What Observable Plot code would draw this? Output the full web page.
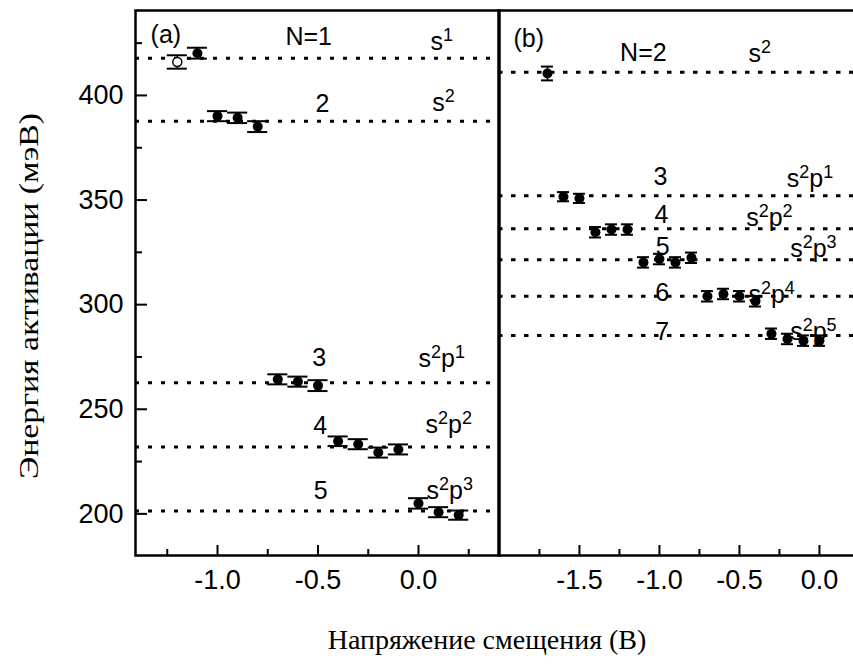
<!DOCTYPE html>
<html><head><meta charset="utf-8">
<script src="https://cdn.jsdelivr.net/npm/d3@7"></script>
<script src="https://cdn.jsdelivr.net/npm/@observablehq/plot@0.6"></script>
<style>
body{margin:0;background:#fff;}
#wrap{position:relative;width:853px;height:664px;overflow:hidden;background:#fff;}
#left,#right{position:absolute;top:0;}
#left{left:0;width:500px;}
#right{left:497px;width:371px;}
#left svg,#right svg{max-width:none !important;display:block;}
#xtitle{position:absolute;left:0;width:974px;top:624px;text-align:center;font-family:"Liberation Serif",serif;font-size:28px;line-height:32px;color:#000;}
</style></head>
<body>
<div id="wrap"><div id="left"></div><div id="right"></div><div id="xtitle">Напряжение смещения (В)</div></div>
<script>
// ---- ticks ----
const yMajor = [200, 250, 300, 350, 400];
const yMinor = [225, 275, 325, 375, 425];
const xMajorA = [-1.0, -0.5, 0.0];
const xMinorA = [-1.25, -0.75, -0.25, 0.25];
const xMajorB = [-1.5, -1.0, -0.5, 0.0];
const xMinorB = [-1.75, -1.25, -0.75, -0.25];

// ---- level lines ----
const levelsA = [417.8, 387.7, 262.7, 232.0, 201.4];
const levelsB = [411.1, 352.0, 336.3, 321.5, 304.0, 285.3];

// ---- panel (a) data ----
const biasA = [-1.1, -1.0, -0.9, -0.8, -0.7, -0.6, -0.5, -0.4, -0.3, -0.2, -0.1, 0.0, 0.1, 0.2];
const energyA = [420.2, 390.1, 389.3, 385.1, 264.3, 263.2, 261.3, 234.7, 233.3, 229.3, 230.8, 205.0, 200.8, 199.4];
const errA = [2.6, 2.4, 2.5, 2.6, 2.4, 2.4, 2.6, 2.3, 2.4, 2.4, 2.4, 2.5, 2.4, 2.2];
const openBiasA = [-1.2];
const openEnergyA = [416.0];
const openErrA = [3.2];

// ---- panel (b) data ----
const biasB = [-1.7, -1.6, -1.5, -1.4, -1.3, -1.2, -1.1, -1.0, -0.9, -0.8, -0.7, -0.6, -0.5, -0.4, -0.3, -0.2, -0.1, 0.0];
const energyB = [410.5, 351.6, 350.8, 334.6, 335.9, 335.9, 320.2, 321.8, 320.2, 322.4, 304.0, 305.1, 304.0, 301.6, 286.1, 283.6, 282.8, 282.8];
const errB = [3.3, 2.2, 2.2, 2.5, 2.5, 2.5, 2.5, 2.5, 2.5, 2.5, 2.5, 2.5, 2.5, 2.5, 2.5, 2.5, 2.5, 2.5];

// ---- annotations ----
const labelTextA = ["(a)", "N=1", "s^1", "2", "s^2", "3", "s^2p^1", "4", "s^2p^2", "5", "s^2p^3"];
const labelXA = [-1.333, -0.662, 0.06, -0.512, 0.068, -0.529, 0.0, -0.524, 0.035, -0.521, 0.04];
const labelYA = [425.3, 423.9, 421.5, 392.0, 392.8, 270.7, 270.0, 238.0, 238.8, 207.2, 207.2];
const labelTextB = ["(b)", "N=2", "s^2", "3", "s^2p^1", "4", "s^2p^2", "5", "s^2p^3", "6", "s^2p^4", "7", "s^2p^5"];
const labelXB = [-1.9125, -1.246, -0.444, -1.0375, -0.204, -1.031, -0.458, -1.0225, -0.183, -1.027, -0.444, -1.027, -0.183];
const labelYB = [423.1, 416.4, 416.0, 357.0, 356.2, 339.0, 337.8, 323.9, 322.8, 301.6, 300.8, 283.2, 283.2];

const yTitle = "Энергия активации (мэВ)";

const SANS = "Liberation Sans, Arial, sans-serif";
const SERIF = "Liberation Serif, Times New Roman, serif";
const H = 664, MT = 10, MB = 109;
const frameH = H - MT - MB;
const yDomain = [180.1, 440.6];

const zip = (xs, ys, es) => xs.map((x, i) => ({x, y: ys[i], e: es ? es[i] : 0}));
const lab = (ts, xs, ys) => ts.map((t, i) => ({t, x: xs[i], y: ys[i]}));

function errMarks(data, capHalf) {
  return [
    Plot.ruleX(data, {x: "x", y1: d => d.y - d.e, y2: d => d.y + d.e, stroke: "black", strokeWidth: 1.5}),
    Plot.ruleY(data, {y: d => d.y - d.e, x1: d => d.x - capHalf, x2: d => d.x + capHalf, stroke: "black", strokeWidth: 2}),
    Plot.ruleY(data, {y: d => d.y + d.e, x1: d => d.x - capHalf, x2: d => d.x + capHalf, stroke: "black", strokeWidth: 2})
  ];
}

function superscript(svg) {
  svg.querySelectorAll("text").forEach(t => {
    const s = t.textContent;
    if (!s.includes("^")) return;
    t.textContent = "";
    const parts = s.split(/(\^\d)/).filter(p => p);
    let raised = false;
    for (const p of parts) {
      const ts = document.createElementNS("http://www.w3.org/2000/svg", "tspan");
      if (p.startsWith("^")) {
        ts.textContent = p.slice(1);
        ts.setAttribute("font-size", "18");
        ts.setAttribute("dy", "-9");
        raised = true;
      } else {
        ts.textContent = p;
        if (raised) { ts.setAttribute("dy", "9"); raised = false; }
      }
      t.appendChild(ts);
    }
  });
}

// ---- left panel ----
const WL = 500, MLL = 135, MRL = 1;
const frameWL = WL - MLL - MRL;
const left = Plot.plot({
  width: WL, height: H, marginLeft: MLL, marginRight: MRL, marginTop: MT, marginBottom: MB,
  style: {background: "transparent", overflow: "visible"},
  x: {domain: [-1.408, 0.403]},
  y: {domain: yDomain},
  marks: [
    Plot.ruleY(levelsA, {y: d => d, stroke: "black", strokeWidth: 3, strokeDasharray: "4,9"}),
    ...errMarks(zip(biasA, energyA, errA), 0.05),
    ...errMarks(zip(openBiasA, openEnergyA, openErrA), 0.05),
    Plot.dot(zip(biasA, energyA), {x: "x", y: "y", r: 5, fill: "black", stroke: "none"}),
    Plot.dot(zip(openBiasA, openEnergyA), {x: "x", y: "y", r: 4.5, fill: "white", stroke: "black", strokeWidth: 1.5}),
    Plot.text(lab(labelTextA, labelXA, labelYA), {x: "x", y: "y", text: "t", textAnchor: "start", lineAnchor: "bottom", fontSize: 25, fontFamily: SANS, fill: "black"}),
    Plot.tickX(xMajorA, {x: d => d, insetTop: frameH - 10, stroke: "black", strokeWidth: 2}),
    Plot.tickX(xMinorA, {x: d => d, insetTop: frameH - 6, stroke: "black", strokeWidth: 2}),
    Plot.tickY(yMajor, {y: d => d, insetRight: frameWL - 12, stroke: "black", strokeWidth: 2}),
    Plot.tickY(yMinor, {y: d => d, insetRight: frameWL - 7, stroke: "black", strokeWidth: 2}),
    Plot.axisX(xMajorA, {anchor: "bottom", tickSize: 0, tickPadding: 14, tickFormat: d => d.toFixed(1), fontSize: 27, fontFamily: SANS, fill: "black", label: null}),
    Plot.axisY(yMajor, {anchor: "left", tickSize: 0, tickPadding: 12, tickFormat: d => String(d), fontSize: 27, fontFamily: SANS, fill: "black", label: null}),
    Plot.text([yTitle], {text: d => d, frameAnchor: "left", textAnchor: "middle", lineAnchor: "middle", rotate: -90, dx: -106, dy: 13, fontSize: 28, fontFamily: SERIF, fill: "black", className: "ytitle"}),
    Plot.frame({stroke: "black", strokeWidth: 2.5})
  ]
});
superscript(left);
left.querySelectorAll(".ytitle text").forEach(t => {
  t.setAttribute("textLength", "366");
  t.setAttribute("lengthAdjust", "spacingAndGlyphs");
});
document.getElementById("left").appendChild(left);

// ---- right panel ----
const WR = 371, MLR = 1, MRR = 10;
const right = Plot.plot({
  width: WR, height: H, marginLeft: MLR, marginRight: MRR, marginTop: MT, marginBottom: MB,
  style: {background: "transparent"},
  x: {domain: [-2.006, 0.244]},
  y: {domain: yDomain, axis: null},
  marks: [
    Plot.ruleY(levelsB, {y: d => d, stroke: "black", strokeWidth: 3, strokeDasharray: "4.5,8.5"}),
    ...errMarks(zip(biasB, energyB, errB), 0.0375),
    Plot.dot(zip(biasB, energyB), {x: "x", y: "y", r: 5, fill: "black", stroke: "none"}),
    Plot.text(lab(labelTextB, labelXB, labelYB), {x: "x", y: "y", text: "t", textAnchor: "start", lineAnchor: "bottom", fontSize: 25, fontFamily: SANS, fill: "black"}),
    Plot.tickX(xMajorB, {x: d => d, insetTop: frameH - 10, stroke: "black", strokeWidth: 2}),
    Plot.tickX(xMinorB, {x: d => d, insetTop: frameH - 6, stroke: "black", strokeWidth: 2}),
    Plot.axisX(xMajorB, {anchor: "bottom", tickSize: 0, tickPadding: 14, tickFormat: d => d.toFixed(1), fontSize: 27, fontFamily: SANS, fill: "black", label: null}),
    Plot.frame({stroke: "black", strokeWidth: 2.5})
  ]
});
superscript(right);
document.getElementById("right").appendChild(right);
</script>
</body></html>
